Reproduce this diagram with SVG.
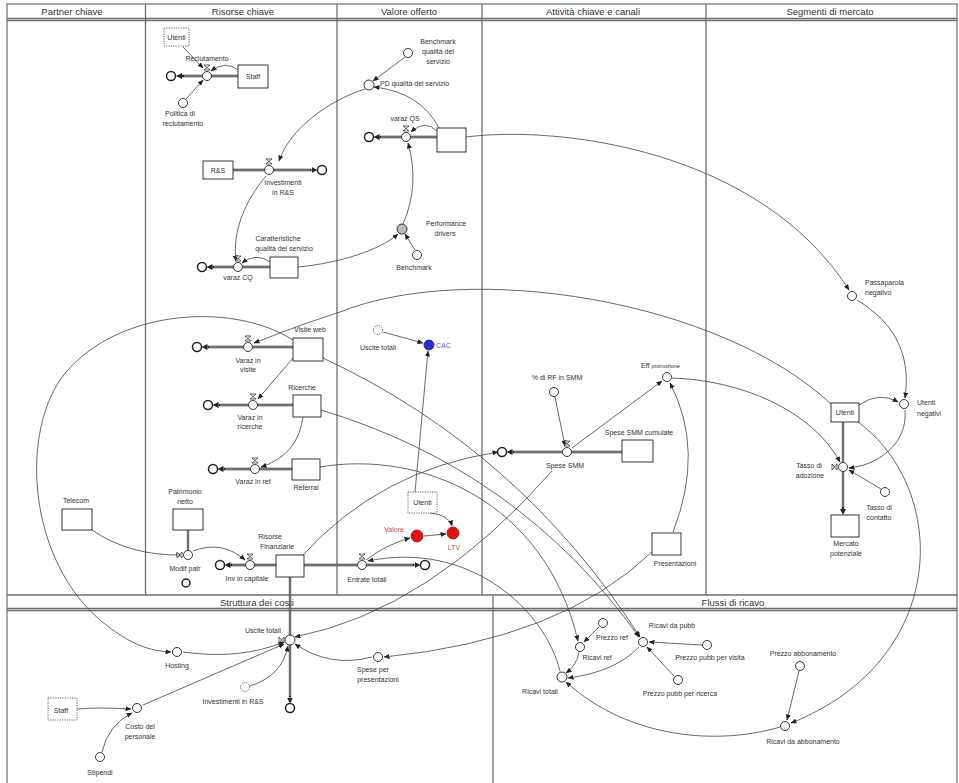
<svg xmlns="http://www.w3.org/2000/svg" width="959" height="783" viewBox="0 0 959 783">
<defs>
<style>
.frame{fill:none;stroke:#7a7a7a;stroke-width:1.3}
.div{stroke:#6e6e6e;stroke-width:1.3}
.hdr{font-family:"Liberation Sans",Arial,sans-serif;font-size:9.5px;fill:#333;text-anchor:middle}
.t{font-family:"Liberation Sans",Arial,sans-serif;font-size:7px;fill:#333;text-anchor:middle}
.ts{font-family:"Liberation Sans",Arial,sans-serif;font-size:7px;fill:#333;text-anchor:start}
.stock{fill:#fff;stroke:#222;stroke-width:0.9}
.ghost{fill:#fff;stroke:#555;stroke-width:0.9;stroke-dasharray:1.2 1.2}
.aux{fill:#fff;stroke:#222;stroke-width:0.9}
.cloud{fill:#fff;stroke:#222;stroke-width:1.5}
.valve{fill:#fff;stroke:#222;stroke-width:0.7}
.link{fill:none;stroke:#444;stroke-width:0.8;marker-end:url(#ah)}
.po{fill:none;stroke:#222;stroke-width:2.3;marker-end:url(#pa)}
.pn{fill:none;stroke:#222;stroke-width:2.3}
.pi{fill:none;stroke:#fff;stroke-width:0.7}
</style>
<marker id="ah" markerUnits="userSpaceOnUse" markerWidth="6" markerHeight="5" refX="5.5" refY="2.5" orient="auto"><path d="M0,0 L6,2.5 L0,5 Z" fill="#222"/></marker>
<marker id="pa" markerUnits="userSpaceOnUse" markerWidth="6" markerHeight="6" refX="0" refY="3" orient="auto"><path d="M0,0 L6,3 L0,6 Z" fill="#222"/></marker>
</defs>
<rect width="959" height="783" fill="#fff"/>

<g id="frame">
<rect class="frame" x="7" y="4" width="950" height="781"/>
<line class="div" x1="7" y1="18.5" x2="957" y2="18.5"/>
<line class="div" x1="7" y1="20.5" x2="957" y2="20.5"/>
<line class="div" x1="145.5" y1="4" x2="145.5" y2="595"/>
<line class="div" x1="337" y1="4" x2="337" y2="595"/>
<line class="div" x1="482" y1="4" x2="482" y2="595"/>
<line class="div" x1="706" y1="4" x2="706" y2="595"/>
<line class="div" x1="7" y1="595" x2="957" y2="595"/>
<line class="div" x1="7" y1="608.5" x2="957" y2="608.5"/>
<line class="div" x1="7" y1="610.5" x2="957" y2="610.5"/>
<line class="div" x1="493" y1="595" x2="493" y2="783"/>
<text class="hdr" x="72" y="15">Partner chiave</text>
<text class="hdr" x="243" y="15">Risorse chiave</text>
<text class="hdr" x="409" y="15">Valore offerto</text>
<text class="hdr" x="593" y="15">Attività chiave e canali</text>
<text class="hdr" x="830" y="15">Segmenti di mercato</text>
<text class="hdr" x="257" y="606">Struttura dei costi</text>
<text class="hdr" x="733" y="606">Flussi di ricavo</text>
</g>

<g id="connectors">
<!-- pipes -->
<path class="po" d="M238,76 L182,76"/><path class="pi" d="M238,76 L184,76"/>
<path class="po" d="M233,170 L311.5,170"/><path class="pi" d="M233,170 L310,170"/>
<path class="po" d="M270,267 L212.5,267"/><path class="pi" d="M270,267 L214,267"/>
<path class="po" d="M437,137 L379.5,137"/><path class="pi" d="M437,137 L381,137"/>
<path class="po" d="M293,347 L207.5,347"/><path class="pi" d="M293,347 L209,347"/>
<path class="po" d="M293,405 L218.5,405"/><path class="pi" d="M293,405 L220,405"/>
<path class="po" d="M292,469 L223.5,469"/><path class="pi" d="M292,469 L225,469"/>
<path class="po" d="M276,565 L230.5,565"/><path class="pi" d="M276,565 L232,565"/>
<path class="po" d="M304,565 L414.5,565"/><path class="pi" d="M304,565 L413,565"/>
<path class="po" d="M622,452 L512.5,452"/><path class="pi" d="M622,452 L514,452"/>
<path class="po" d="M290,577 L290,697.5"/><path class="pi" d="M290,577 L290,696"/>
<path class="pn" d="M188,530 L188,551"/><path class="pi" d="M188,530 L188,551"/>
<path class="po" d="M843,422 L843,509"/><path class="pi" d="M843,422 L843,507"/>
<!-- links -->
<path class="link" d="M183,47 L203,68"/>
<path class="link" d="M238,70 Q226,60 211,71"/>
<path class="link" d="M186,99 L203,80"/>
<path class="link" d="M405,57 L373,81"/>
<path class="link" d="M439,128 Q420,92 374,87"/>
<path class="link" d="M365,89 C330,100 290,128 279,161"/>
<path class="link" d="M266,176 C246,200 232,230 236,261"/>
<path class="link" d="M270,262 Q256,252 242,263"/>
<path class="link" d="M437,131 Q425,119 411,132"/>
<path class="link" d="M403,224 Q420,185 408,143"/>
<path class="link" d="M415,250 L405,234"/>
<path class="link" d="M298,267 C340,263 380,250 398,234"/>
<path class="link" d="M466,137 C560,125 760,150 849,290"/>
<path class="link" d="M857,300 C890,320 912,350 905,398"/>
<path class="link" d="M859,405 Q879,391 898,402"/>
<path class="link" d="M905,410 C908,442 880,465 849,468"/>
<path class="link" d="M881,489 L849,470"/>
<path class="link" d="M672,378 C740,380 812,410 840,462"/>
<path class="link" d="M831,404 C720,300 470,260 340,312 C300,325 280,333 254,343"/>
<path class="link" d="M858,422 C950,490 950,660 791,723"/>
<path class="link" d="M293,340 C230,300 110,310 60,380 C20,440 30,560 100,620 C130,645 150,651 171,652"/>
<path class="link" d="M293,358 L258,399"/>
<path class="link" d="M303,417 Q298,455 261,467"/>
<path class="link" d="M383,332 L423,343"/>
<path class="link" d="M415,492 L428,351"/>
<path class="link" d="M430,513 Q449,515 452,526"/>
<path class="link" d="M424,536 L446,534"/>
<path class="link" d="M366,560 Q385,545 410,538"/>
<path class="link" d="M92,530 Q130,556 182,555"/>
<path class="link" d="M193,551 Q222,540 245,560"/>
<path class="link" d="M302,556 Q380,470 498,452"/>
<path class="link" d="M555,397 L565,446"/>
<path class="link" d="M572,448 L662,381"/>
<path class="link" d="M673,532 Q705,450 670,383"/>
<path class="link" d="M652,552 Q560,640 384,657"/>
<path class="link" d="M552,471 Q430,610 295,637"/>
<path class="link" d="M372,657 Q330,668 295,644"/>
<path class="link" d="M183,652 Q240,660 284,642"/>
<path class="link" d="M250,686 Q282,676 288,646"/>
<path class="link" d="M143,705 L284,644"/>
<path class="link" d="M77,709 Q100,707 131,709"/>
<path class="link" d="M102,752 Q108,725 132,713"/>
<path class="link" d="M323,358 Q520,450 640,637"/>
<path class="link" d="M321,410 Q520,470 639,637"/>
<path class="link" d="M320,467 C420,450 545,500 578,641"/>
<path class="link" d="M560,671 C545,610 470,540 368,561"/>
<path class="link" d="M599,627 L584,642"/>
<path class="link" d="M579,652 Q577,665 566,673"/>
<path class="link" d="M639,647 Q615,672 568,678"/>
<path class="link" d="M702,645 L649,642"/>
<path class="link" d="M674,676 L647,647"/>
<path class="link" d="M799,671 L787,720"/>
<path class="link" d="M780,727 C720,745 630,740 566,682"/>
</g>

<g id="n-utenti-ghost-1"><rect class="ghost" x="164" y="28" width="25" height="18"/><text class="t" x="176.5" y="39.5">Utenti</text></g>
<g id="n-reclutamento"><circle class="cloud" cx="171" cy="76" r="4.5"/><circle class="aux" cx="207" cy="76" r="4.5"/><path class="valve" d="M204,65 L210,65 L204,70 L210,70 Z"/><text class="t" x="207" y="61">Reclutamento</text></g>
<g id="n-staff"><rect class="stock" x="238" y="65" width="30" height="23"/><text class="t" x="253" y="79">Staff</text></g>
<g id="n-politica"><circle class="aux" cx="183" cy="103" r="4.5"/><text class="t" x="180" y="116">Politica di</text><text class="t" x="183" y="126">reclutamento</text></g>
<g id="n-rs"><rect class="stock" x="203" y="161" width="30" height="18"/><text class="t" x="218" y="172.5">R&amp;S</text></g>
<g id="n-investimenti"><circle class="aux" cx="269" cy="170" r="4.5"/><path class="valve" d="M266,159 L272,159 L266,164 L272,164 Z"/><circle class="cloud" cx="322" cy="170" r="4.5"/><text class="t" x="283" y="185">Investimenti</text><text class="t" x="283" y="195">in R&amp;S</text></g>
<g id="n-caratteristiche"><rect class="stock" x="270" y="257" width="28" height="21"/><text class="t" x="278" y="241">Caratteristiche</text><text class="t" x="284" y="251">qualità del servizio</text></g>
<g id="n-varaz-cq"><circle class="aux" cx="238" cy="267" r="4.5"/><path class="valve" d="M235,256 L241,256 L235,261 L241,261 Z"/><circle class="cloud" cx="202" cy="267" r="4.5"/><text class="t" x="238" y="280">varaz CQ</text></g>
<g id="n-benchmark-qs"><circle class="aux" cx="408" cy="53" r="4.5"/><text class="t" x="438" y="44">Benchmark</text><text class="t" x="438" y="54">qualità del</text><text class="t" x="438" y="64">servizio</text></g>
<g id="n-pd"><circle class="aux" cx="369" cy="85" r="5"/><text class="ts" x="380" y="86">PD qualità del servizio</text></g>
<g id="n-varaz-qs"><circle class="aux" cx="406" cy="137" r="4.5"/><path class="valve" d="M403,126 L409,126 L403,131 L409,131 Z"/><circle class="cloud" cx="369" cy="137" r="4.5"/><text class="t" x="405" y="121">varaz QS</text></g>
<g id="n-qs"><rect class="stock" x="437" y="128" width="29" height="24"/></g>
<g id="n-performance"><circle cx="402" cy="229" r="5" fill="#bbb" stroke="#222" stroke-width="0.9"/><text class="t" x="446" y="226">Performance</text><text class="t" x="445" y="236">drivers</text></g>
<g id="n-benchmark"><circle class="aux" cx="417" cy="255" r="4.5"/><text class="t" x="414" y="270">Benchmark</text></g>
<g id="n-visite-web"><rect class="stock" x="293" y="338" width="30" height="23"/><text class="t" x="310" y="332">Visite web</text></g>
<g id="n-varaz-visite"><circle class="cloud" cx="197" cy="347" r="4.5"/><circle class="aux" cx="248" cy="347" r="4.5"/><path class="valve" d="M245,336 L251,336 L245,341 L251,341 Z"/><text class="t" x="248" y="363">Varaz in</text><text class="t" x="248" y="372">visite</text></g>
<g id="n-ricerche"><rect class="stock" x="293" y="395" width="28" height="22"/><text class="t" x="302" y="390">Ricerche</text></g>
<g id="n-varaz-ricerche"><circle class="cloud" cx="208" cy="405" r="4.5"/><circle class="aux" cx="253" cy="405" r="4.5"/><path class="valve" d="M250,394 L256,394 L250,399 L256,399 Z"/><text class="t" x="250" y="420">Varaz in</text><text class="t" x="250" y="429">ricerche</text></g>
<g id="n-referral"><rect class="stock" x="292" y="459" width="28" height="21"/><text class="t" x="306" y="490">Referral</text></g>
<g id="n-varaz-ref"><circle class="cloud" cx="213" cy="469" r="4.5"/><circle class="aux" cx="255" cy="469" r="4.5"/><path class="valve" d="M252,458 L258,458 L252,463 L258,463 Z"/><text class="t" x="253" y="484">Varaz in ref</text></g>
<g id="n-uscite-ghost"><circle class="ghost" cx="378" cy="330" r="4.5"/><text class="t" x="378" y="350">Uscite totali</text></g>
<g id="n-cac"><circle cx="429" cy="345" r="5" fill="#2b2bd6" stroke="#1a1a9a" stroke-width="0.8"/><text class="ts" x="436" y="348" style="fill:#5a5ae0">CAC</text></g>
<g id="n-utenti-ghost-2"><rect class="ghost" x="408" y="492" width="29" height="21"/><text class="t" x="422.5" y="505">Utenti</text></g>
<g id="n-valore"><circle cx="417" cy="536" r="6" fill="#e31212" stroke="#a00" stroke-width="0.8"/><text class="t" x="394" y="532" style="fill:#e84040">Valore</text></g>
<g id="n-ltv"><circle cx="453" cy="533" r="6" fill="#e31212" stroke="#a00" stroke-width="0.8"/><text class="t" x="454" y="550" style="fill:#e84040">LTV</text></g>
<g id="n-telecom"><rect class="stock" x="62" y="509" width="30" height="21"/><text class="t" x="76" y="503">Telecom</text></g>
<g id="n-patrimonio"><rect class="stock" x="173" y="509" width="30" height="21"/><text class="t" x="185" y="494">Patrimonio</text><text class="t" x="185" y="504">netto</text></g>
<g id="n-modif-patr"><circle class="aux" cx="188" cy="555" r="4.5"/><path class="valve" d="M177,552 L177,558 L182,552 L182,558 Z"/><circle class="cloud" cx="186" cy="583" r="4"/><text class="t" x="185" y="571">Modif patr</text></g>
<g id="n-inv-capitale"><circle class="cloud" cx="220" cy="565" r="4.5"/><circle class="aux" cx="250" cy="565" r="4.5"/><path class="valve" d="M247,554 L253,554 L247,559 L253,559 Z"/><text class="t" x="247" y="581">Inv in capitale</text></g>
<g id="n-risorse"><rect class="stock" x="276" y="555" width="28" height="22"/><text class="t" x="270" y="539">Risorse</text><text class="t" x="277" y="549">Finanziarie</text></g>
<g id="n-entrate"><circle class="aux" cx="362" cy="565" r="4.5"/><path class="valve" d="M359,554 L365,554 L359,559 L365,559 Z"/><circle class="cloud" cx="425" cy="565" r="4.5"/><text class="t" x="367" y="582">Entrate totali</text></g>
<g id="n-rf-smm"><circle class="aux" cx="554" cy="392" r="4.5"/><text class="t" x="557" y="380">% di RF in SMM</text></g>
<g id="n-spese-smm"><circle class="cloud" cx="502" cy="452" r="4.5"/><circle class="aux" cx="567" cy="452" r="4.5"/><path class="valve" d="M564,441 L570,441 L564,446 L570,446 Z"/><text class="t" x="565" y="468">Spese SMM</text></g>
<g id="n-spese-cum"><rect class="stock" x="622" y="440" width="31" height="22"/><text class="t" x="639" y="435">Spese SMM cumulate</text></g>
<g id="n-eff"><circle class="aux" cx="667" cy="377" r="4.5"/><text class="ts" x="641" y="368">Eff <tspan style="font-size:5.5px">promozione</tspan></text></g>
<g id="n-presentazioni"><rect class="stock" x="652" y="533" width="29" height="22"/><text class="t" x="675" y="566">Presentazioni</text></g>
<g id="n-passaparola"><circle class="aux" cx="852" cy="296" r="4.5"/><text class="ts" x="865" y="285">Passaparola</text><text class="ts" x="865" y="295">negativo</text></g>
<g id="n-utenti-neg"><circle class="aux" cx="904" cy="404" r="4.5"/><text class="ts" x="917" y="405">Utenti</text><text class="ts" x="917" y="416">negativi</text></g>
<g id="n-utenti"><rect class="stock" x="831" y="403" width="28" height="19"/><text class="t" x="845" y="415">Utenti</text></g>
<g id="n-tasso-adozione"><circle class="aux" cx="843" cy="467" r="4.5"/><path class="valve" d="M832,464 L832,470 L837,464 L837,470 Z"/><text class="t" x="809" y="468">Tasso di</text><text class="t" x="810" y="478">adozione</text></g>
<g id="n-mercato"><rect class="stock" x="831" y="515" width="28" height="22"/><text class="t" x="846" y="546">Mercato</text><text class="t" x="846" y="556">potenziale</text></g>
<g id="n-tasso-contatto"><circle class="aux" cx="885" cy="492" r="4.5"/><text class="t" x="879" y="510">Tasso di</text><text class="t" x="879" y="520">contatto</text></g>
<g id="n-uscite"><circle class="aux" cx="290" cy="640" r="5"/><path class="valve" d="M279,637 L279,643 L284,637 L284,643 Z"/><circle class="cloud" cx="290" cy="708" r="4.5"/><text class="t" x="263" y="633">Uscite totali</text></g>
<g id="n-hosting"><circle class="aux" cx="177" cy="652" r="4.5"/><text class="t" x="177" y="668">Hosting</text></g>
<g id="n-inv-rs-ghost"><circle class="ghost" cx="245" cy="687" r="4.5"/><text class="t" x="233" y="704">Investimenti in R&amp;S</text></g>
<g id="n-staff-ghost"><rect class="ghost" x="48" y="698" width="29" height="22"/><text class="t" x="61" y="713">Staff</text></g>
<g id="n-costo"><circle class="aux" cx="137" cy="708" r="4.5"/><text class="t" x="140" y="729">Costo del</text><text class="t" x="140" y="739">personale</text></g>
<g id="n-stipendi"><circle class="aux" cx="100" cy="757" r="4.5"/><text class="t" x="100" y="775">Stipendi</text></g>
<g id="n-spese-pres"><circle class="aux" cx="378" cy="657" r="4.5"/><text class="t" x="373" y="672">Spese per</text><text class="t" x="378" y="682">presentazioni</text></g>
<g id="n-ricavi-totali"><circle class="aux" cx="562" cy="677" r="5"/><text class="t" x="540" y="694">Ricavi totali</text></g>
<g id="n-ricavi-ref"><circle class="aux" cx="580" cy="647" r="4.5"/><text class="t" x="597" y="660">Ricavi ref</text></g>
<g id="n-prezzo-ref"><circle class="aux" cx="603" cy="623" r="4.5"/><text class="t" x="612" y="640">Prezzo ref</text></g>
<g id="n-ricavi-pubb"><circle class="aux" cx="643" cy="642" r="4.5"/><text class="t" x="672" y="628">Ricavi da pubb</text></g>
<g id="n-prezzo-visita"><circle class="aux" cx="707" cy="645" r="4.5"/><text class="t" x="710" y="660">Prezzo pubb per visita</text></g>
<g id="n-prezzo-ricerca"><circle class="aux" cx="678" cy="680" r="4.5"/><text class="t" x="680" y="696">Prezzo pubb per ricerca</text></g>
<g id="n-prezzo-abb"><circle class="aux" cx="800" cy="666" r="4.5"/><text class="t" x="803" y="656">Prezzo abbonamento</text></g>
<g id="n-ricavi-abb"><circle class="aux" cx="785" cy="726" r="4.5"/><text class="t" x="803" y="744">Ricavi da abbonamento</text></g>
</svg>
